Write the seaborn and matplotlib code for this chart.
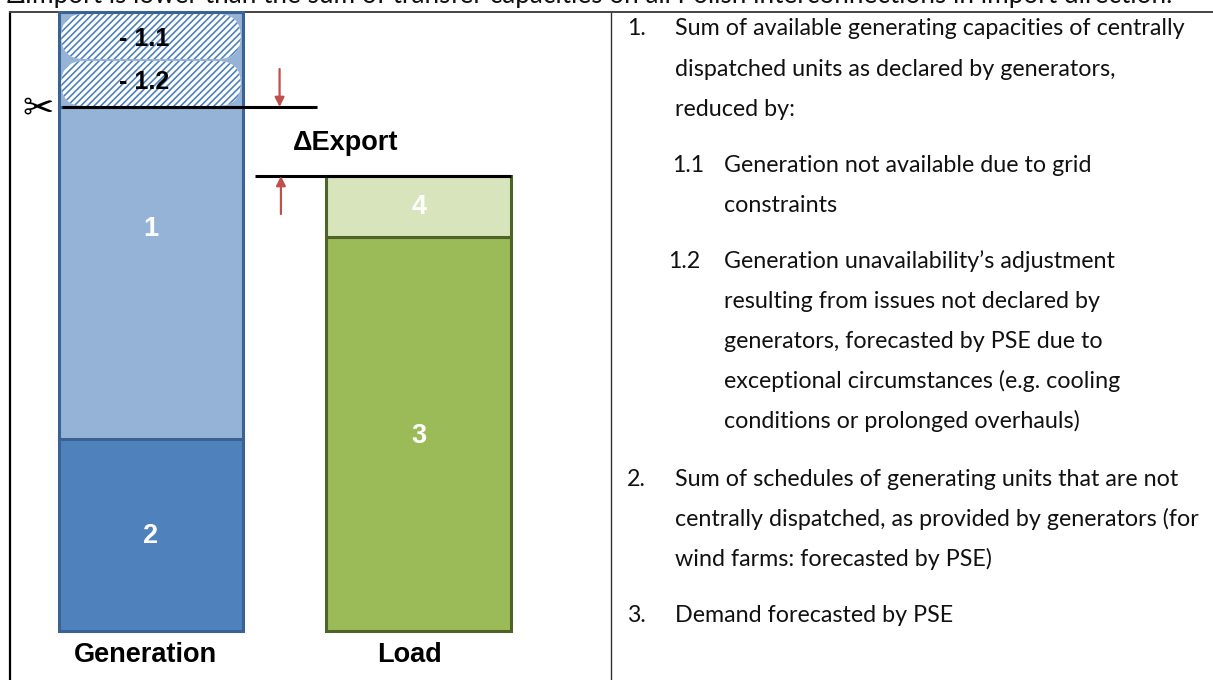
from __future__ import annotations

import matplotlib
matplotlib.use("Agg")
import matplotlib.pyplot as plt
from matplotlib.patches import FancyBboxPatch
import seaborn as sns

W, H = 1213, 680

CATEGORIES = ["Generation", "Load"]
# stacked segments, in the units of the sketch (bottom to top)
GEN_LABELS = ["2", "1"]
GEN_VALUES = [192, 332]
GEN_COLORS = ["#4F81BD", "#95B3D7"]
CUT_LABELS = ["- 1.2", "- 1.1"]
CUT_VALUES = [47, 48]
LOAD_LABELS = ["3", "4"]
LOAD_VALUES = [394, 61]
LOAD_COLORS = ["#9BBB59", "#D8E4BC"]

CAPTION = "ΔImport is lower than the sum of transfer capacities on all Polish interconnections in import direction."
NOTE_LINES = [
    (627, 675, 28, "1.", "Sum of available generating capacities of centrally"),
    (None, 675, 69, "", "dispatched units as declared by generators,"),
    (None, 675, 109, "", "reduced by:"),
    (672, 724, 165, "1.1", "Generation not available due to grid"),
    (None, 724, 205, "", "constraints"),
    (668, 724, 261, "1.2", "Generation unavailability’s adjustment"),
    (None, 724, 301, "", "resulting from issues not declared by"),
    (None, 724, 341, "", "generators, forecasted by PSE due to"),
    (None, 724, 381, "", "exceptional circumstances (e.g. cooling"),
    (None, 724, 421, "", "conditions or prolonged overhauls)"),
    (627, 675, 479, "2.", "Sum of schedules of generating units that are not"),
    (None, 675, 519, "", "centrally dispatched, as provided by generators (for"),
    (None, 675, 559, "", "wind farms: forecasted by PSE)"),
    (627, 675, 615, "3.", "Demand forecasted by PSE"),
]

sns.set_theme(style="white")
plt.rcParams["font.family"] = ["Lato", "DejaVu Sans"]

fig = plt.figure(figsize=(W / 100, H / 100), dpi=100)
# overlay in image pixels for the page text and table rules
page = fig.add_axes([0, 0, 1, 1])
page.set_xlim(0, W)
page.set_ylim(H, 0)
page.axis("off")

# chart cell: px 10..610 across, px 11..680 down
ax = fig.add_axes([10 / W, 0, 600 / W, 669 / H])
ax.patch.set_alpha(0)


def stack(ax, cat, values, colors, edge):
    bottom = 0
    for val, col in zip(values, colors):
        sns.barplot(x=[cat], y=[val], order=CATEGORIES, bottom=bottom, color=col, saturation=1,
                    width=0.69, edgecolor=edge, linewidth=2.2, ax=ax)
        bottom += val
    return bottom


cut_level = stack(ax, CATEGORIES[0], GEN_VALUES, GEN_COLORS, "#3A6394")
load_level = stack(ax, CATEGORIES[1], LOAD_VALUES, LOAD_COLORS, "#4F6228")
# the part cut away still sits on top of the generation bar
sns.barplot(x=[CATEGORIES[0]], y=[sum(CUT_VALUES)], order=CATEGORIES, bottom=cut_level, color=GEN_COLORS[1],
            saturation=1, width=0.69, edgecolor="#3A6394", linewidth=2.2, ax=ax)

ax.set_xlim(-0.526, 1.713)
ax.set_ylim(-49, 620)
ax.set_xlabel("")
ax.set_ylabel("")
ax.set_yticks([])
ax.set_xticks([-0.02, 0.963], CATEGORIES, fontsize=19.5, fontweight="bold", family="Liberation Sans", color="black")
ax.tick_params(axis="x", length=0, pad=-27.5)
for side in ["left", "right", "top", "bottom"]:
    ax.spines[side].set_visible(False)

plt.rcParams["hatch.linewidth"] = 1.2
bottom = cut_level + 1
for val, lab, nudge in zip(CUT_VALUES, CUT_LABELS, [1.5, -3]):
    box = FancyBboxPatch((-0.335, bottom), 0.67, min(val - 1, 45), boxstyle="round,pad=0,rounding_size=0.085",
                         mutation_aspect=268, facecolor="white", edgecolor="#4F81BD", linewidth=0,
                         hatch="/////", zorder=4)
    ax.add_patch(box)
    ax.text(-0.026, bottom + val / 2 - 1 + nudge, lab, ha="center", va="center", fontsize=18,
            fontweight="bold", family="Liberation Sans", color="black", zorder=5)
    bottom += val

lab_font = dict(ha="center", va="center", fontsize=19.5, fontweight="bold", family="Liberation Sans", color="white", zorder=5)
ax.text(0, GEN_VALUES[0] * 0.5 - 1, GEN_LABELS[0], **lab_font)
ax.text(0, 402, GEN_LABELS[1], **lab_font)
ax.text(1, LOAD_VALUES[0] * 0.5 - 2, LOAD_LABELS[0], **lab_font)
ax.text(1, LOAD_VALUES[0] + LOAD_VALUES[1] * 0.5, LOAD_LABELS[1], **lab_font)

ax.hlines(cut_level, -0.332, 0.62, color="black", linewidth=2.2, zorder=6)
ax.hlines(load_level, 0.388, 1.345, color="black", linewidth=2.2, zorder=6)

red = "#C0504D"
ax.annotate("", xy=(0.48, cut_level), xytext=(0.48, cut_level + 38),
            arrowprops=dict(arrowstyle="-|>", color=red, lw=1.6, mutation_scale=14, shrinkA=0, shrinkB=0), zorder=7)
ax.annotate("", xy=(0.485, load_level), xytext=(0.485, load_level - 38),
            arrowprops=dict(arrowstyle="-|>", color=red, lw=1.6, mutation_scale=14, shrinkA=0, shrinkB=0), zorder=7)
ax.text(0.725, (cut_level + load_level) / 2 - 2, "ΔExport", ha="center", va="center", fontsize=19.5,
        fontweight="bold", family="Liberation Sans", color="black")

# scissors mark at the cut
ax.text(-0.42, cut_level - 3, "✂", ha="center", va="center", fontsize=27, family="DejaVu Sans", color="black")

# table rules
page.plot([10, 10], [11, H], color="black", lw=1.6, solid_capstyle="butt")
page.plot([611, 611], [11, H], color="#333333", lw=1.0, solid_capstyle="butt")
page.plot([9, W], [11.5, 11.5], color="#444444", lw=1.4, solid_capstyle="butt")

page.text(7, 3.5, CAPTION, fontsize=18.85, color="#111111", ha="left", va="baseline", clip_on=True)

for num_x, text_x, y, num, line in NOTE_LINES:
    if num_x is not None:
        page.text(num_x, y + 7, num, fontsize=16.75, color="#111111", ha="left", va="baseline")
    page.text(text_x, y + 7, line, fontsize=16.75, color="#111111", ha="left", va="baseline")

fig.savefig("out.png", dpi=100)
